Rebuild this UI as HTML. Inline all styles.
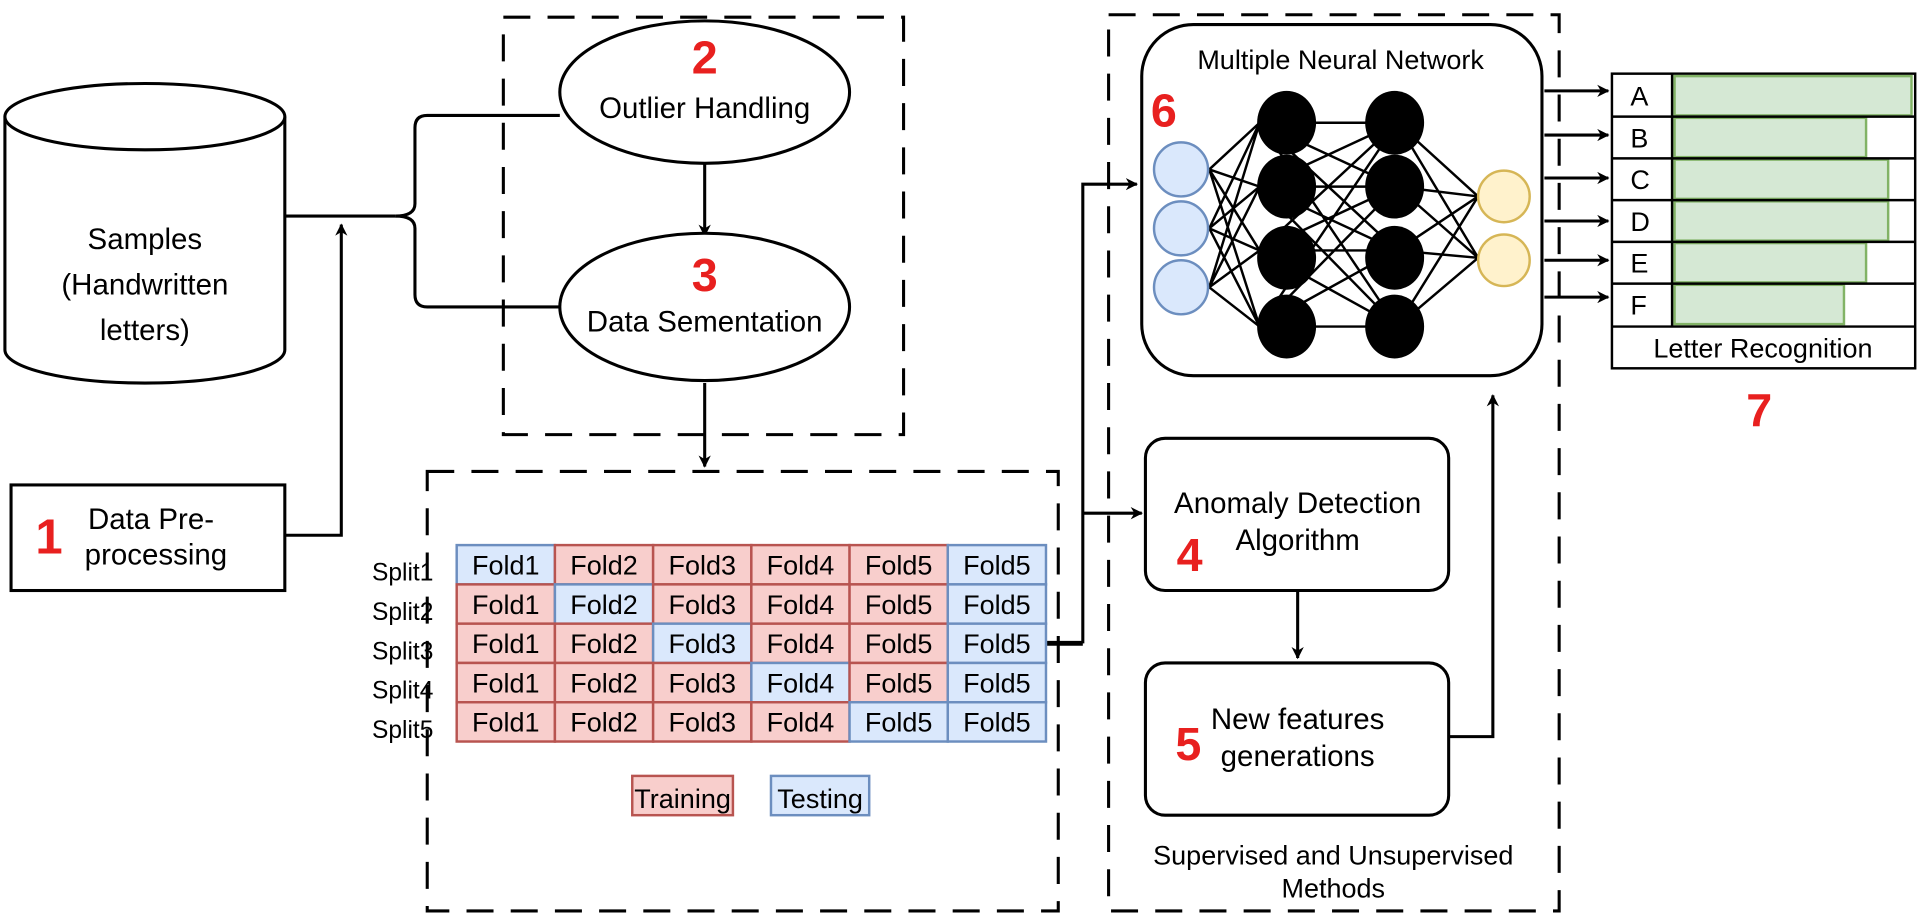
<!DOCTYPE html>
<html><head><style>
html,body{margin:0;padding:0;background:#fff;}
svg{display:block;font-family:"Liberation Sans",Arial,sans-serif;}
</style></head><body>
<svg width="1925" height="922" viewBox="0 0 1568 751" preserveAspectRatio="none" xmlns="http://www.w3.org/2000/svg">
<defs>
<marker id="ar" markerWidth="10" markerHeight="10" refX="9" refY="5" orient="auto" markerUnits="userSpaceOnUse"><path d="M0,0 L10,5 L0,10 L3,5 Z" fill="#000"/></marker>
</defs>
<rect width="1568" height="751" fill="#fff"/>
<g fill="none" stroke="#000" stroke-width="2.5" stroke-dasharray="22,14">
<rect x="410" y="14" width="326" height="340"/>
<rect x="348" y="384" width="514" height="358"/>
<rect x="903" y="12" width="367" height="730"/>
</g>
<g stroke="#000" stroke-width="2.5" fill="#fff">
<path d="M4,95 L4,285 A114,27 0 0 0 232,285 L232,95"/>
<ellipse cx="118" cy="95" rx="114" ry="27"/>
</g>
<g font-size="24" text-anchor="middle" fill="#000">
<text x="118" y="203">Samples</text>
<text x="118" y="240">(Handwritten</text>
<text x="118" y="277">letters)</text>
</g>
<rect x="9" y="395" width="223" height="86" fill="#fff" stroke="#000" stroke-width="2.5"/>
<text x="40" y="451" font-size="40" font-weight="bold" fill="#e8201f" text-anchor="middle">1</text>
<text x="123" y="431" font-size="24" text-anchor="middle">Data Pre-</text>
<text x="127" y="460" font-size="24" text-anchor="middle">processing</text>
<g fill="none" stroke="#000" stroke-width="2.5">
<path d="M232,436 L278,436 L278,183" marker-end="url(#ar)"/>
<path d="M232,176 L322,176"/>
<path d="M456,94 L348,94 Q338,94 338,104 L338,166 Q338,176 322,176"/>
<path d="M456,250 L348,250 Q338,250 338,240 L338,186 Q338,176 322,176"/>
<path d="M574,132 L574,192" marker-end="url(#ar)"/>
<path d="M574,312 L574,380" marker-end="url(#ar)"/>
<path d="M852,524 L882,524" stroke-width="4"/>
<path d="M882,524 L882,150 L926,150" marker-end="url(#ar)"/>
<path d="M882,418 L930,418" marker-end="url(#ar)"/>
<path d="M1057,481 L1057,536" marker-end="url(#ar)"/>
<path d="M1180,600 L1216,600 L1216,322" marker-end="url(#ar)"/>
</g>
<ellipse cx="574" cy="75" rx="118" ry="58" fill="#fff" stroke="#000" stroke-width="2.5"/>
<ellipse cx="574" cy="250" rx="118" ry="60" fill="#fff" stroke="#000" stroke-width="2.5"/>
<text x="574" y="60" font-size="38" font-weight="bold" fill="#e8201f" text-anchor="middle">2</text>
<text x="574" y="96" font-size="24" text-anchor="middle">Outlier Handling</text>
<text x="574" y="237" font-size="38" font-weight="bold" fill="#e8201f" text-anchor="middle">3</text>
<text x="574" y="270" font-size="24" text-anchor="middle">Data Sementation</text>
<g font-size="22" text-anchor="middle">
<g text-anchor="start" font-size="20">
<text x="303" y="473">Split1</text><text x="303" y="505">Split2</text><text x="303" y="537">Split3</text><text x="303" y="569">Split4</text><text x="303" y="601">Split5</text>
</g>
<g stroke-width="2">
<rect x="372" y="444" width="80" height="32" fill="#dae8fc" stroke="#6c8ebf"/>
<rect x="452" y="444" width="80" height="32" fill="#f8cecc" stroke="#b85450"/>
<rect x="532" y="444" width="80" height="32" fill="#f8cecc" stroke="#b85450"/>
<rect x="612" y="444" width="80" height="32" fill="#f8cecc" stroke="#b85450"/>
<rect x="692" y="444" width="80" height="32" fill="#f8cecc" stroke="#b85450"/>
<rect x="772" y="444" width="80" height="32" fill="#dae8fc" stroke="#6c8ebf"/>
<rect x="372" y="476" width="80" height="32" fill="#f8cecc" stroke="#b85450"/>
<rect x="452" y="476" width="80" height="32" fill="#dae8fc" stroke="#6c8ebf"/>
<rect x="532" y="476" width="80" height="32" fill="#f8cecc" stroke="#b85450"/>
<rect x="612" y="476" width="80" height="32" fill="#f8cecc" stroke="#b85450"/>
<rect x="692" y="476" width="80" height="32" fill="#f8cecc" stroke="#b85450"/>
<rect x="772" y="476" width="80" height="32" fill="#dae8fc" stroke="#6c8ebf"/>
<rect x="372" y="508" width="80" height="32" fill="#f8cecc" stroke="#b85450"/>
<rect x="452" y="508" width="80" height="32" fill="#f8cecc" stroke="#b85450"/>
<rect x="532" y="508" width="80" height="32" fill="#dae8fc" stroke="#6c8ebf"/>
<rect x="612" y="508" width="80" height="32" fill="#f8cecc" stroke="#b85450"/>
<rect x="692" y="508" width="80" height="32" fill="#f8cecc" stroke="#b85450"/>
<rect x="772" y="508" width="80" height="32" fill="#dae8fc" stroke="#6c8ebf"/>
<rect x="372" y="540" width="80" height="32" fill="#f8cecc" stroke="#b85450"/>
<rect x="452" y="540" width="80" height="32" fill="#f8cecc" stroke="#b85450"/>
<rect x="532" y="540" width="80" height="32" fill="#f8cecc" stroke="#b85450"/>
<rect x="612" y="540" width="80" height="32" fill="#dae8fc" stroke="#6c8ebf"/>
<rect x="692" y="540" width="80" height="32" fill="#f8cecc" stroke="#b85450"/>
<rect x="772" y="540" width="80" height="32" fill="#dae8fc" stroke="#6c8ebf"/>
<rect x="372" y="572" width="80" height="32" fill="#f8cecc" stroke="#b85450"/>
<rect x="452" y="572" width="80" height="32" fill="#f8cecc" stroke="#b85450"/>
<rect x="532" y="572" width="80" height="32" fill="#f8cecc" stroke="#b85450"/>
<rect x="612" y="572" width="80" height="32" fill="#f8cecc" stroke="#b85450"/>
<rect x="692" y="572" width="80" height="32" fill="#dae8fc" stroke="#6c8ebf"/>
<rect x="772" y="572" width="80" height="32" fill="#dae8fc" stroke="#6c8ebf"/>
</g>
<g>
<text x="412" y="468">Fold1</text><text x="492" y="468">Fold2</text><text x="572" y="468">Fold3</text><text x="652" y="468">Fold4</text><text x="732" y="468">Fold5</text><text x="812" y="468">Fold5</text>
<text x="412" y="500">Fold1</text><text x="492" y="500">Fold2</text><text x="572" y="500">Fold3</text><text x="652" y="500">Fold4</text><text x="732" y="500">Fold5</text><text x="812" y="500">Fold5</text>
<text x="412" y="532">Fold1</text><text x="492" y="532">Fold2</text><text x="572" y="532">Fold3</text><text x="652" y="532">Fold4</text><text x="732" y="532">Fold5</text><text x="812" y="532">Fold5</text>
<text x="412" y="564">Fold1</text><text x="492" y="564">Fold2</text><text x="572" y="564">Fold3</text><text x="652" y="564">Fold4</text><text x="732" y="564">Fold5</text><text x="812" y="564">Fold5</text>
<text x="412" y="596">Fold1</text><text x="492" y="596">Fold2</text><text x="572" y="596">Fold3</text><text x="652" y="596">Fold4</text><text x="732" y="596">Fold5</text><text x="812" y="596">Fold5</text>
</g>
<rect x="515" y="632" width="82" height="32" fill="#f8cecc" stroke="#b85450" stroke-width="2"/>
<rect x="628" y="632" width="80" height="32" fill="#dae8fc" stroke="#6c8ebf" stroke-width="2"/>
<text x="556" y="658">Training</text><text x="668" y="658">Testing</text>
</g>
<rect x="930" y="20" width="326" height="286" rx="42" fill="#fff" stroke="#000" stroke-width="2.5"/>
<text x="1092" y="56" font-size="22" text-anchor="middle">Multiple Neural Network</text>
<text x="948" y="103" font-size="38" font-weight="bold" fill="#e8201f" text-anchor="middle">6</text>
<g stroke="#000" stroke-width="2">
<path d="M985,138 L1026,100 M985,138 L1026,152 M985,138 L1026,204 M985,138 L1026,266 M985,186 L1026,100 M985,186 L1026,152 M985,186 L1026,204 M985,186 L1026,266 M985,234 L1026,100 M985,234 L1026,152 M985,234 L1026,204 M985,234 L1026,266"/>
<path d="M1026,100 L1138,100 M1026,100 L1138,152 M1026,100 L1138,204 M1026,100 L1138,266 M1026,152 L1138,100 M1026,152 L1138,152 M1026,152 L1138,204 M1026,152 L1138,266 M1026,204 L1138,100 M1026,204 L1138,152 M1026,204 L1138,204 M1026,204 L1138,266 M1026,266 L1138,100 M1026,266 L1138,152 M1026,266 L1138,204 M1026,266 L1138,266"/>
<path d="M1138,100 L1204,160 M1138,100 L1204,210 M1138,152 L1204,160 M1138,152 L1204,210 M1138,204 L1204,160 M1138,204 L1204,210 M1138,266 L1204,160 M1138,266 L1204,210"/>
</g>
<g fill="#dae8fc" stroke="#6c8ebf" stroke-width="2">
<circle cx="962" cy="138" r="22"/><circle cx="962" cy="186" r="22"/><circle cx="962" cy="234" r="22"/>
</g>
<g fill="#000">
<ellipse cx="1048" cy="100" rx="24" ry="26"/><ellipse cx="1048" cy="152" rx="24" ry="26"/><ellipse cx="1048" cy="210" rx="24" ry="26"/><ellipse cx="1048" cy="266" rx="24" ry="26"/>
<ellipse cx="1136" cy="100" rx="24" ry="26"/><ellipse cx="1136" cy="152" rx="24" ry="26"/><ellipse cx="1136" cy="210" rx="24" ry="26"/><ellipse cx="1136" cy="266" rx="24" ry="26"/>
</g>
<g fill="#fff2cc" stroke="#d6b656" stroke-width="2">
<circle cx="1225" cy="160" r="21"/><circle cx="1225" cy="212" r="21"/>
</g>
<g stroke="#000" stroke-width="2.5" fill="none">
<path d="M1258,74 L1310,74" marker-end="url(#ar)"/>
<path d="M1258,110 L1310,110" marker-end="url(#ar)"/>
<path d="M1258,145 L1310,145" marker-end="url(#ar)"/>
<path d="M1258,180 L1310,180" marker-end="url(#ar)"/>
<path d="M1258,212 L1310,212" marker-end="url(#ar)"/>
<path d="M1258,242 L1310,242" marker-end="url(#ar)"/>
</g>
<g stroke-width="2">
<rect x="1313" y="60" width="247" height="240" fill="#fff" stroke="#000"/>
<rect x="1364" y="62" width="193" height="32" fill="#d5e8d4" stroke="#82b366"/>
<rect x="1364" y="96" width="156" height="32" fill="#d5e8d4" stroke="#82b366"/>
<rect x="1364" y="130" width="174" height="32" fill="#d5e8d4" stroke="#82b366"/>
<rect x="1364" y="164" width="174" height="32" fill="#d5e8d4" stroke="#82b366"/>
<rect x="1364" y="198" width="156" height="32" fill="#d5e8d4" stroke="#82b366"/>
<rect x="1364" y="232" width="138" height="32" fill="#d5e8d4" stroke="#82b366"/>
<path d="M1362,60 L1362,266 M1313,95 L1560,95 M1313,129 L1560,129 M1313,163 L1560,163 M1313,197 L1560,197 M1313,231 L1560,231 M1313,266 L1560,266" stroke="#000" fill="none"/>
</g>
<g font-size="22">
<text x="1328" y="86">A</text><text x="1328" y="120">B</text><text x="1328" y="154">C</text><text x="1328" y="188">D</text><text x="1328" y="222">E</text><text x="1328" y="256">F</text>
<text x="1436" y="291" text-anchor="middle">Letter Recognition</text>
</g>
<text x="1433" y="347" font-size="38" font-weight="bold" fill="#e8201f" text-anchor="middle">7</text>
<rect x="933" y="357" width="247" height="124" rx="16" fill="#fff" stroke="#000" stroke-width="2.5"/>
<text x="1057" y="418" font-size="24" text-anchor="middle">Anomaly Detection</text>
<text x="1057" y="448" font-size="24" text-anchor="middle">Algorithm</text>
<text x="969" y="465" font-size="38" font-weight="bold" fill="#e8201f" text-anchor="middle">4</text>
<rect x="933" y="540" width="247" height="124" rx="16" fill="#fff" stroke="#000" stroke-width="2.5"/>
<text x="1057" y="594" font-size="24" text-anchor="middle">New features</text>
<text x="1057" y="624" font-size="24" text-anchor="middle">generations</text>
<text x="968" y="619" font-size="38" font-weight="bold" fill="#e8201f" text-anchor="middle">5</text>
<text x="1086" y="704" font-size="22" text-anchor="middle">Supervised and Unsupervised</text>
<text x="1086" y="731" font-size="22" text-anchor="middle">Methods</text>
</svg>
</body></html>
